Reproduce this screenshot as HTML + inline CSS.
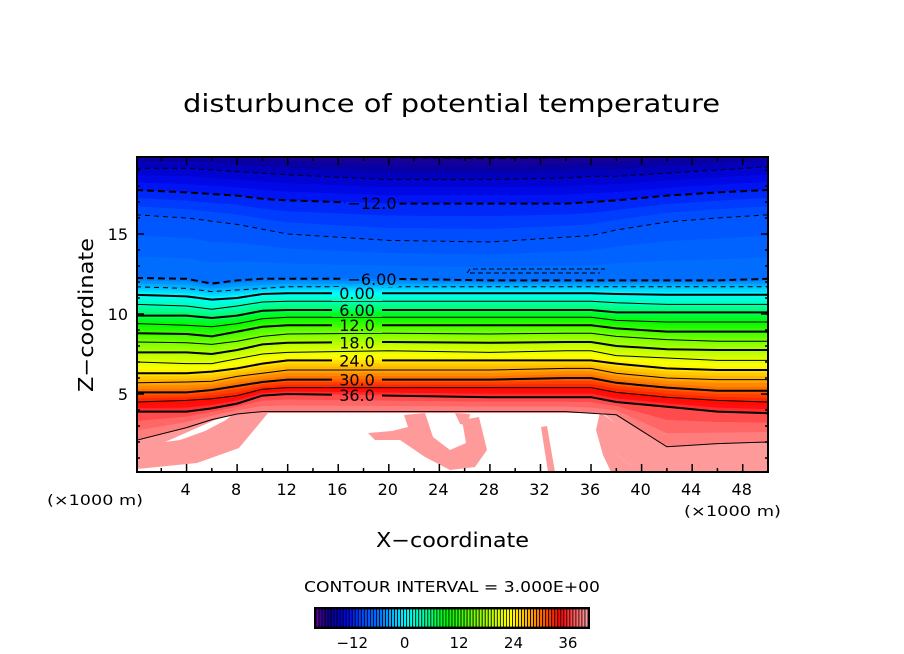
<!DOCTYPE html>
<html><head><meta charset="utf-8"><style>
html,body{margin:0;padding:0;background:#fff;}
svg{display:block;font-family:"DejaVu Sans","Liberation Sans",sans-serif;}
</style></head><body>
<svg id="chart" width="904" height="654" viewBox="0 0 904 654" xmlns="http://www.w3.org/2000/svg">
<defs>
<clipPath id="plotclip"><rect x="137" y="157" width="631" height="315"/></clipPath>
<mask id="labelmask" maskUnits="userSpaceOnUse" x="0" y="0" width="904" height="654">
<rect x="0" y="0" width="904" height="654" fill="#fff"/>
<rect x="345" y="195" width="52" height="16" fill="#000"/>
<rect x="343" y="271" width="56" height="16" fill="#000"/>
<rect x="332" y="287" width="50" height="14" fill="#000"/>
<rect x="332" y="303" width="50" height="14" fill="#000"/>
<rect x="332" y="319" width="50" height="14" fill="#000"/>
<rect x="332" y="335" width="50" height="14" fill="#000"/>
<rect x="332" y="353" width="50" height="14" fill="#000"/>
<rect x="332" y="372" width="50" height="14" fill="#000"/>
<rect x="332" y="390" width="50" height="14" fill="#000"/>
</mask>
</defs>
<text x="183" y="112" font-size="25" textLength="537" lengthAdjust="spacingAndGlyphs">disturbunce of potential temperature</text>
<g id="fill" clip-path="url(#plotclip)"></g>
<g id="lines" clip-path="url(#plotclip)" mask="url(#labelmask)"></g>
<g id="labels" font-size="16"></g>
<rect x="137" y="157" width="631" height="315" fill="none" stroke="#000" stroke-width="2"/>
<g id="ticks"></g>
<g id="ticklabels" font-size="16"></g>
<text x="47" y="505" font-size="14" textLength="96" lengthAdjust="spacingAndGlyphs">(×1000 m)</text>
<text x="684" y="516" font-size="14" textLength="97" lengthAdjust="spacingAndGlyphs">(×1000 m)</text>
<text x="376" y="547" font-size="20" textLength="153" lengthAdjust="spacingAndGlyphs">X−coordinate</text>
<text transform="translate(93,392) rotate(-90)" font-size="20" textLength="154" lengthAdjust="spacingAndGlyphs">Z−coordinate</text>
<text x="304" y="592" font-size="15" textLength="296" lengthAdjust="spacingAndGlyphs">CONTOUR INTERVAL = 3.000E+00</text>
<g id="cbar"></g>
</svg>
<script>
const stations = [0,4,6,8,10,12,20,28,34,36,38,42,46,50];
const levels = [-21,-18,-15,-12,-9,-6,-3,0,3,6,9,12,15,18,21,24,27,30,33,36,39];
const zm21 = [21.5,21.5,21.5,21.5,21.5,21.5,21.5,21.5,21.5,21.5,21.5,21.5,21.5,21.5];
const zm18 = [20.25,20.25,20.2,20.1,20.1,20.0,19.8,19.75,19.8,19.9,19.9,20.1,20.2,20.25];
const zm15 = [19.1,19.1,19.0,18.9,18.8,18.7,18.4,18.4,18.5,18.6,18.6,18.8,19.0,19.2];
const zm12 = [17.75,17.6,17.5,17.4,17.2,17.1,16.9,16.9,16.9,17.0,17.1,17.4,17.6,17.75];
const zm9 = [16.2,16.0,15.8,15.6,15.3,15.0,14.6,14.5,14.8,14.9,15.25,15.75,16.0,16.2];
const zm6 = [12.25,12.2,11.9,12.1,12.2,12.2,12.2,12.1,12.1,12.1,12.1,12.1,12.1,12.2];
const zm3 = [11.7,11.6,11.4,11.5,11.6,11.7,11.7,11.7,11.7,11.7,11.7,11.7,11.7,11.7];
const z0 = [11.2,11.1,10.9,11.0,11.25,11.3,11.3,11.3,11.3,11.3,11.25,11.2,11.2,11.2];
const z3 = [10.6,10.5,10.3,10.5,10.75,10.8,10.8,10.8,10.8,10.8,10.7,10.6,10.6,10.6];
const z6 = [9.9,9.9,9.75,9.9,10.2,10.25,10.25,10.25,10.25,10.25,10.1,10.1,10.1,10.1];
const z9 = [9.4,9.3,9.2,9.4,9.7,9.8,9.8,9.8,9.8,9.8,9.6,9.5,9.5,9.5];
const z12 = [8.8,8.75,8.6,8.9,9.2,9.3,9.3,9.3,9.3,9.3,9.1,8.9,8.9,8.9];
const z15 = [8.25,8.2,8.1,8.3,8.6,8.75,8.8,8.75,8.8,8.8,8.6,8.4,8.3,8.3];
const z18 = [7.6,7.6,7.5,7.75,8.1,8.2,8.25,8.2,8.25,8.25,8.0,7.8,7.75,7.75];
const z21 = [7.0,6.9,6.9,7.2,7.5,7.6,7.7,7.6,7.7,7.7,7.4,7.25,7.1,7.1];
const z24 = [6.3,6.3,6.4,6.6,6.9,7.1,7.1,7.1,7.1,7.1,6.9,6.6,6.5,6.5];
const z27 = [5.7,5.75,5.8,6.1,6.3,6.5,6.5,6.5,6.6,6.6,6.3,6.0,5.9,5.9];
const z30 = [5.1,5.1,5.25,5.5,5.75,5.9,5.9,5.9,6.0,6.0,5.7,5.4,5.2,5.2];
const z33 = [4.5,4.6,4.7,4.9,5.3,5.4,5.4,5.4,5.4,5.4,5.1,4.8,4.6,4.5];
const z36 = [3.9,3.9,4.1,4.4,4.9,5.0,4.9,4.8,4.8,4.8,4.5,4.2,3.9,3.8];
const z39 = [2.1,2.9,3.4,3.75,3.9,3.9,3.9,3.9,3.9,3.8,3.7,1.7,1.9,2.0];
const levelZ = [zm21,zm18,zm15,zm12,zm9,zm6,zm3,z0,z3,z6,z9,z12,z15,z18,z21,z24,z27,z30,z33,z36,z39];
const labelTexts = ["−12.0","−6.00","0.00","6.00","12.0","18.0","24.0","30.0","36.0"];
const labelLevels = [-12,-6,0,6,12,18,24,30,36];
const xTicks = [4,8,12,16,20,24,28,32,36,40,44,48];
const yTicks = [5,10,15];
const cbarTicks = [-12,0,12,24,36];

const NS="http://www.w3.org/2000/svg";
const X = km => 136 + 12.64*km;
const Y = z => 474 - 16*z;
const CB = v => 316 + (v+20)*272/60;
const stops=[[-20,[110,0,170]],[-19,[60,0,150]],[-17,[10,0,150]],[-15,[0,0,200]],[-13,[0,10,240]],[-10,[0,70,255]],[-6,[0,115,255]],[-3,[0,185,255]],[0,[0,255,255]],[4,[0,255,160]],[9,[0,250,0]],[15,[120,255,0]],[20,[210,255,0]],[23,[255,255,0]],[28,[255,150,0]],[34,[255,0,0]],[37,[255,90,90]],[40,[255,160,160]]];
function cmap(v){
  if(v<=stops[0][0]) return `rgb(${stops[0][1]})`;
  for(let i=0;i<stops.length-1;i++){const a=stops[i],b=stops[i+1];
    if(v<=b[0]){const t=(v-a[0])/(b[0]-a[0]);return 'rgb('+a[1].map((c,j)=>Math.round(c+(b[1][j]-c)*t)).join(',')+')';}}
  return `rgb(${stops[stops.length-1][1]})`;
}
function mk(tag,attrs,parent){const e=document.createElementNS(NS,tag);for(const k in attrs)e.setAttribute(k,attrs[k]);parent.appendChild(e);return e;}
const fillG=document.getElementById('fill'), lineG=document.getElementById('lines');
for(let k=0;k<levels.length-1;k++){
  const za=levelZ[k], zb=levelZ[k+1];
  for(let s=0;s<3;s++){
    const t0=s/3,t1=(s+1)/3;
    const top=stations.map((x,i)=>X(x)+','+Y(za[i]+(zb[i]-za[i])*t0));
    const bot=stations.map((x,i)=>X(x)+','+Y(za[i]+(zb[i]-za[i])*t1)).reverse();
    const v=levels[k]+3*(s+0.5)/3;
    const p=mk('polygon',{points:top.concat(bot).join(' '),fill:cmap(v),stroke:cmap(v),'stroke-width':0.6},fillG);
    
    
  }
}
{
  const zl=levelZ[levels.length-1];
  const pts=stations.map((x,i)=>X(x)+','+Y(zl[i]));
  pts.push(X(50)+','+Y(-1),X(0)+','+Y(-1));
  const p=mk('polygon',{points:pts.join(' '),fill:'#ff9a9a'},fillG);
  
  
}
{
  const p=mk('path',{d:'M137,440 L187,427 L213,420 L238,414 L268,412.5 L259,424 L239,448 L197,463 L137,469 Z',fill:'#ff9a9a'},fillG);
  
  
}
const whites=[
 "268,413 603,413 615,423 615,453 632,467 632,474 137,474 137,469 197,463 239,448 259,424",
 "165,442 190,431 215,420 232,415 226,420 205,431 180,440"
];
whites.forEach(w=>{const p=mk('polygon',{points:w,fill:'#fff'},fillG);
 
 });
const pinks=[
 "404,415 425,413 433,437 450,450 466,443 462,420 479,417 487,450 475,467 450,470 425,457 400,440 375,440 368,433 392,431 408,427",
 "541,427 547,426 555,472 548,472",
 "600,412 615,423 615,453 632,467 632,474 612,474 603,455 596,430",
 "455,413 470,414 468,425 460,424"
];
pinks.forEach(w=>{const p=mk('polygon',{points:w,fill:'#ff9a9a'},fillG);
 
 });
for(let k=1;k<levels.length;k++){
  const v=levels[k];
  const thick=(v%6===0)&&v!==39;
  const pts=stations.map((x,i)=>X(x)+','+Y(levelZ[k][i])).join(' ');
  const a={points:pts,fill:'none',stroke:'#000','stroke-width':thick?2:1};
  if(v<0) a['stroke-dasharray']=thick?'7,4':'5,4';
  const l=mk('polyline',a,lineG);
  
  
}
{const l=mk('path',{d:'M467,273 L470,269 L605,269 M470,273 L600,273',fill:'none',stroke:'#000','stroke-width':1,'stroke-dasharray':'5,3'},lineG);
 
 }
const labG=document.getElementById('labels');
labelLevels.forEach((v,i)=>{
  const k=levels.indexOf(v);
  const xs = v<0 ? 18.5 : 17.5;
  const idx=stations.findIndex(s=>s>=xs);
  const z=levelZ[k][idx-1]+(levelZ[k][idx]-levelZ[k][idx-1])*(xs-stations[idx-1])/(stations[idx]-stations[idx-1]);
  const t=mk('text',{x:v<0?372:357,y:Y(z)+6,'text-anchor':'middle'},labG);
  t.textContent=labelTexts[i];
  
  
});
const tg=document.getElementById('ticks'), tl=document.getElementById('ticklabels');
for(let km=2;km<50;km+=2){const L=(km%4===0)?8:4;
  mk('line',{x1:X(km),x2:X(km),y1:472,y2:472-L,stroke:'#000','stroke-width':1.5},tg);
  mk('line',{x1:X(km),x2:X(km),y1:157,y2:157+L,stroke:'#000','stroke-width':1.5},tg);}
for(let z=1;z<20;z++){const L=(z%5===0)?7:3;
  mk('line',{x1:137,x2:137+L,y1:Y(z),y2:Y(z),stroke:'#000','stroke-width':1.5},tg);
  mk('line',{x1:768,x2:768-L,y1:Y(z),y2:Y(z),stroke:'#000','stroke-width':1.5},tg);}
xTicks.forEach(v=>{const t=mk('text',{x:X(v)-1,y:495,'text-anchor':'middle'},tl);t.textContent=v;
 });
yTicks.forEach(v=>{const t=mk('text',{x:128,y:Y(v)+6,'text-anchor':'end'},tl);t.textContent=v;
 });
const cb=document.getElementById('cbar');
const ncell=90;
for(let i=0;i<ncell;i++){
  const x0=316+i*272/ncell, w=272/ncell;
  const v=-20+(i+0.5)*60/ncell;
  const r=mk('rect',{x:x0,y:609,width:w,height:18,fill:cmap(v),stroke:'#000','stroke-width':0.8},cb);
  
  
}
mk('rect',{x:315,y:608,width:274,height:20,fill:'none',stroke:'#000','stroke-width':2},cb);
cbarTicks.forEach(v=>{const t=mk('text',{x:CB(v)-(v<0?0:2),y:648,'text-anchor':'middle','font-size':15},cb);t.textContent=v<0?'−'+(-v):v;
 });
</script>
</body></html>
